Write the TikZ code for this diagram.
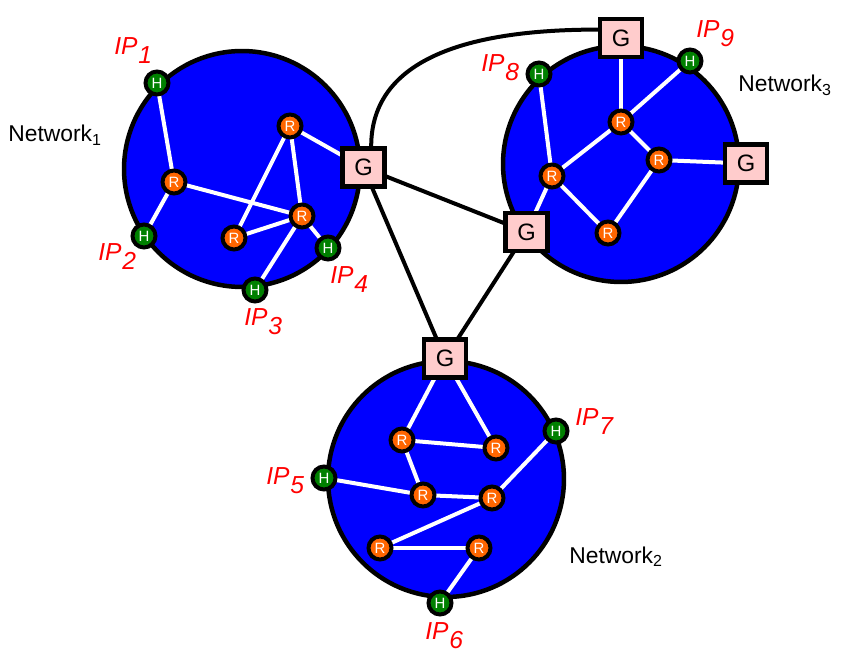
\documentclass[tikz,border=0pt]{standalone}
\usepackage{fontspec}
\setmainfont{Liberation Sans}
\usepackage{tikz}
\usetikzlibrary{backgrounds}

\definecolor{netblue}{RGB}{0,0,255}
\definecolor{hgreen}{RGB}{0,128,0}
\definecolor{rorange}{RGB}{255,102,0}
\definecolor{gpink}{RGB}{255,204,204}

\newcommand{\ipname}[1]{IP\kern0.5pt\raisebox{-0.36em}{#1}}

\begin{document}
\begin{tikzpicture}
			[x=0.02cm,y=-0.02cm,
			net/.style={circle,draw=black,line width=0.09cm,fill=netblue,minimum size=4.72cm,inner sep=0pt},
			n/.style={circle,draw=black,line width=0.08cm,minimum size=0.46cm,inner sep=0pt,text=white,font=\fontsize{8.5}{8.5}\selectfont},
			hst/.style={n,fill=hgreen},
			rtr/.style={n,fill=rorange},
			gw/.style={draw=black,line width=0.085cm,fill=gpink,minimum width=0.84cm,minimum height=0.76cm,inner sep=0pt,font=\fontsize{13.5}{13.5}\selectfont},
			ln/.style={white,line width=0.08cm},
			link/.style={black,line width=0.08cm},
			ip/.style={anchor=base west,inner sep=0pt,red,font=\fontsize{14}{14}\selectfont\itshape},
			lab/.style={anchor=base west,inner sep=0pt,font=\fontsize{13}{13}\selectfont}]

			\useasboundingbox (0,0) rectangle (856,658);

			% network 1
			\node[hst] (h1) at (157,83) {H};
			\node[hst] (h2) at (144,236) {H};
			\node[hst] (h3) at (255,290) {H};
			\node[hst] (h4) at (328,248) {H};
			\node[rtr] (r1a) at (174,182) {R};
			\node[rtr] (r1b) at (290,126) {R};
			\node[rtr] (r1c) at (302,216) {R};
			\node[rtr] (r1d) at (234,238) {R};
			\node[gw] (g1) at (363.5,167.5) {G};

			% network 2
			\node[hst] (h5) at (324,478) {H};
			\node[hst] (h6) at (440,603) {H};
			\node[hst] (h7) at (556,431) {H};
			\node[rtr] (r2a) at (402,440) {R};
			\node[rtr] (r2b) at (496,448) {R};
			\node[rtr] (r2c) at (423,495) {R};
			\node[rtr] (r2d) at (492,498) {R};
			\node[rtr] (r2e) at (380,548) {R};
			\node[rtr] (r2f) at (479,548) {R};
			\node[gw] (g2) at (445,358.5) {G};

			% network 3
			\node[hst] (h8) at (539,74) {H};
			\node[hst] (h9) at (690,61) {H};
			\node[rtr] (r3a) at (621,122) {R};
			\node[rtr] (r3b) at (659,160) {R};
			\node[rtr] (r3c) at (552,176) {R};
			\node[rtr] (r3d) at (608,233) {R};
			\node[gw] (g3a) at (621,38) {G};
			\node[gw] (g3b) at (746,163.5) {G};
			\node[gw] (g3c) at (526.5,232) {G};

			% labels
			\node[ip] (ip1) at (114,55) {\ipname{1}};
			\node[ip] (ip2) at (98,261) {\ipname{2}};
			\node[ip] (ip3) at (244,326) {\ipname{3}};
			\node[ip] (ip4) at (330,284) {\ipname{4}};
			\node[ip] (ip5) at (266,485) {\ipname{5}};
			\node[ip] (ip6) at (425,640) {\ipname{6}};
			\node[ip] (ip7) at (575,426) {\ipname{7}};
			\node[ip] (ip8) at (481,72) {\ipname{8}};
			\node[ip] (ip9) at (696,38) {\ipname{9}};
			\node[lab] (lab1) at (8,142) {Network\textsubscript{1}};
			\node[lab] (lab2) at (569,563) {Network\textsubscript{2}};
			\node[lab] (lab3) at (738,92) {Network\textsubscript{3}};

			\begin{pgfonlayer}{background}
				\node[net] (net1) at (242,169) {};
				\node[net] (net2) at (446,479) {};
				\node[net] (net3) at (621,164) {};

				\foreach \a/\b in {h1/r1a,r1a/h2,r1a/r1c,r1b/r1d,r1b/r1c,r1b/g1,r1d/r1c,r1c/h3,r1c/h4,
						g2/r2a,g2/r2b,r2a/r2b,r2a/r2c,h5/r2c,r2c/r2d,r2d/h7,r2d/r2e,r2e/r2f,r2f/h6,
						g3a/r3a,h9/r3a,h8/r3c,r3a/r3c,r3a/r3b,r3b/g3b,r3c/r3d,r3b/r3d,r3c/g3c}
					\draw[ln] (\a.center) -- (\b.center);

				\draw[link] (g1.center) -- (g3c.center);
				\draw[link] (g1.center) -- (g2.center);
				\draw[link] (g3c.center) -- (g2.center);
				\draw[link] (g1.70) .. controls +(0,-100) and +(-100,0) .. (g3a.160);
			\end{pgfonlayer}

		\end{tikzpicture}
\end{document}
